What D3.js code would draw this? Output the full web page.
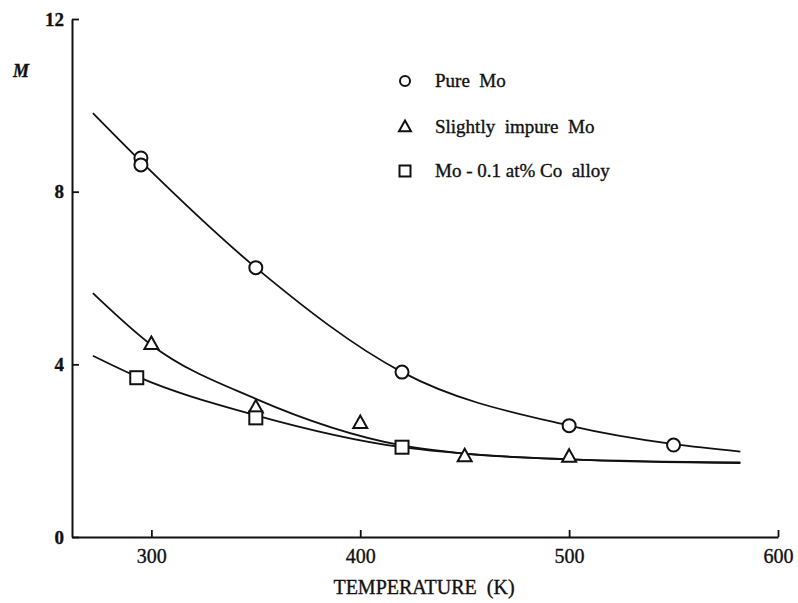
<!DOCTYPE html>
<html>
<head>
<meta charset="utf-8">
<script src="https://cdn.jsdelivr.net/npm/d3@7"></script>
<style>
  html, body { margin: 0; padding: 0; background: #fff; }
  svg { display: block; }
</style>
</head>
<body>
<svg id="chart" width="798" height="603"></svg>
<script>
// ---- data ----
const xTicks = [300, 400, 500, 600];
const yTicks = [0, 4, 8, 12];

const seriesNames = ["Pure  Mo", "Slightly  impure  Mo", "Mo - 0.1 at% Co  alloy"];

// measured points
const pureT   = [295, 295, 350, 420, 500, 550];
const pureM   = [8.78, 8.62, 6.24, 3.82, 2.58, 2.13];
const impureT = [300, 350, 400, 450, 500];
const impureM = [4.47, 3.0, 2.64, 1.87, 1.86];
const alloyT  = [293, 350, 420];
const alloyM  = [3.69, 2.76, 2.08];

// fitted curves
const pureFitT   = [272, 295, 350, 420, 500, 550, 582];
const pureFitM   = [9.82, 8.7, 6.24, 3.82, 2.58, 2.15, 1.98];
const impureFitT = [272, 300, 350, 420, 450, 500, 582];
const impureFitM = [5.65, 4.45, 3.2, 2.12, 1.93, 1.8, 1.73];
const alloyFitT  = [272, 293, 350, 420, 450, 500, 582];
const alloyFitM  = [4.2, 3.72, 2.82, 2.08, 1.93, 1.8, 1.71];

// ---- drawing ----
const FONT = '"Liberation Serif", "Times New Roman", serif';
const ink = "#111";
const svg = d3.select("#chart");
svg.append("rect").attr("width", 798).attr("height", 603).attr("fill", "#fff");

const x = d3.scaleLinear().domain([262, 600]).range([72, 778]);
const y = d3.scaleLinear().domain([0, 12]).range([537, 19]);

function styleText(sel, size) {
  sel.style("font-family", FONT).style("font-size", size + "px")
    .attr("fill", ink).attr("stroke", ink).attr("stroke-width", 0.35);
}

// y axis
const yAxis = svg.append("g")
  .attr("transform", `translate(${x(262)},0)`)
  .call(d3.axisLeft(y).tickValues(yTicks).tickSize(-7).tickSizeOuter(0).tickPadding(8));
yAxis.attr("font-family", null);
styleText(yAxis.selectAll("text"), 19);
yAxis.selectAll("text").style("font-weight", "bold");

// x axis
const xAxis = svg.append("g")
  .attr("transform", `translate(0,${y(0)})`)
  .call(d3.axisBottom(x).tickValues(xTicks).tickSize(-7).tickSizeOuter(0).tickPadding(12));
xAxis.attr("font-family", null);
styleText(xAxis.selectAll("text"), 20);

svg.selectAll(".domain").attr("stroke", ink).attr("stroke-width", 2);
svg.selectAll(".tick line").attr("stroke", ink).attr("stroke-width", 1.8);

// axis titles
const xTitle = svg.append("text")
  .attr("x", 424).attr("y", 594)
  .attr("text-anchor", "middle")
  .style("white-space", "pre")
  .text("TEMPERATURE  (K)");
styleText(xTitle, 20);

const yTitle = svg.append("text")
  .attr("x", 13).attr("y", 77)
  .style("font-style", "italic")
  .style("font-weight", "bold")
  .text("M");
styleText(yTitle, 18);

// fitted curves
const line = d3.line()
  .x(d => x(d[0])).y(d => y(d[1]))
  .curve(d3.curveMonotoneX);

const fits = [
  d3.zip(pureFitT, pureFitM),
  d3.zip(impureFitT, impureFitM),
  d3.zip(alloyFitT, alloyFitM)
];
svg.selectAll("path.fit").data(fits).enter().append("path")
  .attr("class", "fit")
  .attr("d", line)
  .attr("fill", "none")
  .attr("stroke", ink)
  .attr("stroke-width", 1.8);

// marker helpers
function circleMark(g, cx, cy, r) {
  g.append("circle").attr("cx", cx).attr("cy", cy).attr("r", r)
    .attr("fill", "#fff").attr("stroke", ink).attr("stroke-width", 2);
}
function triMark(g, cx, cy, s) {
  const h = s * 0.9;
  g.append("path")
    .attr("d", `M${cx},${cy - h * 0.6}L${cx + s / 2},${cy + h * 0.4}L${cx - s / 2},${cy + h * 0.4}Z`)
    .attr("fill", "#fff").attr("stroke", ink).attr("stroke-width", 2).attr("stroke-linejoin", "miter");
}
function sqMark(g, cx, cy, s) {
  g.append("rect").attr("x", cx - s / 2).attr("y", cy - s / 2).attr("width", s).attr("height", s)
    .attr("fill", "#fff").attr("stroke", ink).attr("stroke-width", 2);
}

const marks = svg.append("g");
d3.zip(pureT, pureM).forEach(d => circleMark(marks, x(d[0]), y(d[1]), 6.5));
d3.zip(impureT, impureM).forEach(d => triMark(marks, x(d[0]), y(d[1]), 14));
d3.zip(alloyT, alloyM).forEach(d => sqMark(marks, x(d[0]), y(d[1]), 13));

// legend
const legendY = [81, 127, 171];
const legend = svg.append("g");
seriesNames.forEach((name, i) => {
  const cy = legendY[i];
  if (i === 0) circleMark(legend, 405, cy, 5);
  if (i === 1) triMark(legend, 405, cy, 12);
  if (i === 2) sqMark(legend, 405, cy, 11);
  const t = legend.append("text")
    .attr("x", 435).attr("y", cy + 6)
    .style("white-space", "pre")
    .text(name);
  styleText(t, 19);
});
</script>
</body>
</html>
